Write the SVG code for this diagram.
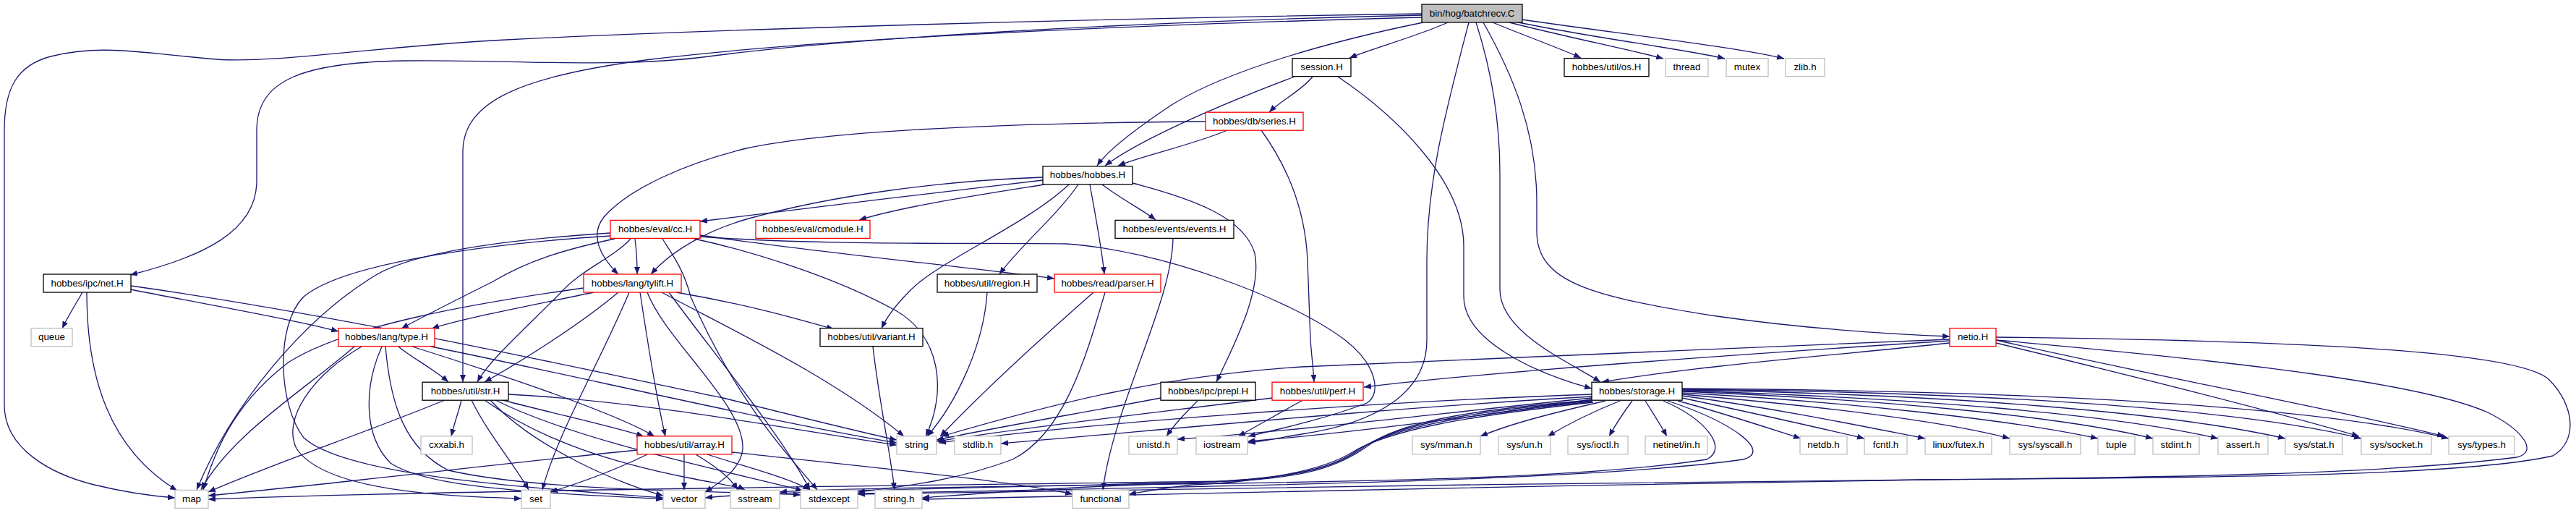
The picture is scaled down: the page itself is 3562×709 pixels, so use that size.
<svg xmlns="http://www.w3.org/2000/svg" width="3562" height="709" viewBox="0 0 3562 709">
<defs>
<marker id="a" viewBox="0 0 10 8" refX="10" refY="4" markerWidth="10" markerHeight="8" markerUnits="userSpaceOnUse" orient="auto"><path d="M0,0L10,4L0,8z" fill="#191970"/></marker>
<style>
.e path{fill:none;stroke:#191970;stroke-width:1.3;marker-end:url(#a)}
rect{fill:#fff;stroke-width:1.3}
.b rect{stroke:#000}
.r rect{stroke:#ff0000}
.g rect{stroke:#bfbfbf}
.root rect{fill:#bfbfbf;stroke:#000}
text{font-family:"Liberation Sans",Arial,Helvetica,sans-serif;font-size:13.33px;text-anchor:middle;fill:#000}
</style>
</defs>
<rect x="0" y="0" width="3562" height="709" style="fill:#fff;stroke:none"/>
<g id="edges" class="e">
<path d="M1966,19 C1500,26 1000,40 700,55 C520,64 380,88 300,82 C200,74 140,60 70,78 C25,90 6,120 6,180 L6,560 C6,620 70,655 130,670 C180,682 215,686 242,688"/>
<path d="M1966,21 C1550,30 1150,55 980,78 C850,95 700,82 560,84 C420,86 355,110 355,180 L355,250 C355,320 280,355 180,380"/>
<path d="M1966,24 C1550,35 1150,52 900,82 C720,105 640,140 640,210 L640,528"/>
<path d="M1968,31 C1850,55 1700,95 1620,145 C1560,185 1530,210 1517,229"/>
<path d="M2002,31 C1960,50 1900,66 1866,80"/>
<path d="M2064,31 C2110,50 2160,68 2186,80"/>
<path d="M2087,31 C2170,52 2250,68 2300,81"/>
<path d="M2095,30 C2200,52 2330,68 2385,81"/>
<path d="M2104,27 C2250,48 2400,65 2467,81"/>
<path d="M2041,31 C2060,90 2074,160 2074,240 L2074,400 C2074,460 2170,500 2213,528"/>
<path d="M2031,31 C2000,150 1973,250 1973,360 L1973,470 C1973,545 1900,585 1800,600 C1770,605 1745,610 1726,612"/>
<path d="M2051,31 C2090,100 2125,180 2125,280 L2125,320 C2125,390 2200,410 2374,437 C2500,455 2620,462 2696,465"/>
<path d="M1790,106 C1700,140 1580,190 1528,229"/>
<path d="M1815,106 C1800,125 1770,140 1755,155"/>
<path d="M1850,106 C1930,160 2024,250 2024,340 L2024,410 C2024,470 2120,515 2201,537"/>
<path d="M1697,180 C1650,200 1580,215 1546,229"/>
<path d="M1667,168 C1400,170 1150,180 1032,205 C950,225 870,260 835,300 C815,325 830,355 855,379"/>
<path d="M1744,180 C1780,230 1805,290 1808,360 L1812,470 C1814,495 1816,510 1817,528"/>
<path d="M1442,249 C1300,265 1100,290 968,306"/>
<path d="M1444,255 C1350,270 1250,285 1188,304"/>
<path d="M1524,255 C1550,275 1580,290 1598,304"/>
<path d="M1491,255 C1460,300 1410,340 1382,379"/>
<path d="M1507,255 C1515,300 1523,340 1527,379"/>
<path d="M1478,255 C1420,310 1300,360 1260,400 C1240,420 1225,440 1219,454"/>
<path d="M1442,245 C1300,250 1150,270 1032,303 C980,318 930,345 900,379"/>
<path d="M1566,253 C1650,275 1720,300 1735,350 C1745,400 1710,470 1682,528"/>
<path d="M844,322 C720,330 580,345 520,380 C420,440 320,560 272,677"/>
<path d="M844,326 C700,335 480,360 420,410 C380,450 385,560 420,605 C480,660 750,675 917,688"/>
<path d="M850,330 C780,345 730,360 680,390 C620,420 580,440 555,454"/>
<path d="M878,330 C880,345 881,360 881,379"/>
<path d="M872,330 C850,355 800,375 775,405 C720,460 675,500 660,528"/>
<path d="M960,330 C1030,345 1150,380 1240,430 C1300,465 1310,540 1280,603"/>
<path d="M916,330 C925,345 945,370 955,410 C1020,560 1100,640 1130,677"/>
<path d="M968,325 C1100,345 1300,365 1458,385"/>
<path d="M968,327 C1150,340 1350,335 1474,337 C1600,345 1780,410 1860,470 C1905,505 1910,545 1890,557 C1830,580 1760,595 1726,603"/>
<path d="M1622,330 C1620,420 1540,560 1525,677"/>
<path d="M114,404 C105,420 95,435 86,454"/>
<path d="M120,404 C120,520 150,620 245,678"/>
<path d="M181,400 C280,420 400,440 468,458"/>
<path d="M181,395 C500,440 850,520 1000,550 C1100,575 1180,595 1240,608"/>
<path d="M807,398 C650,420 480,450 400,500 C320,560 295,630 281,677"/>
<path d="M821,404 C720,425 640,440 597,454"/>
<path d="M855,404 C800,450 720,500 670,528"/>
<path d="M870,404 C830,500 770,600 750,677"/>
<path d="M885,404 C895,470 910,560 920,603"/>
<path d="M895,404 C920,470 1030,560 1027,620 C1025,650 990,670 975,680"/>
<path d="M915,404 C1000,450 1150,520 1250,603"/>
<path d="M925,404 C980,480 1080,600 1120,677"/>
<path d="M935,404 C1030,420 1100,440 1153,455"/>
<path d="M490,479 C420,540 320,600 278,677"/>
<path d="M500,479 C430,520 390,580 410,620 C450,680 620,686 721,689"/>
<path d="M551,479 C570,495 600,510 620,528"/>
<path d="M570,479 C700,520 850,570 905,603"/>
<path d="M596,479 C800,520 1050,580 1240,612"/>
<path d="M528,479 C505,530 500,600 540,640 C600,680 800,682 917,690"/>
<path d="M533,479 C540,560 560,620 620,650 C750,680 1000,678 1107,684"/>
<path d="M615,553 C500,600 380,640 288,680"/>
<path d="M638,553 C634,570 628,585 624,603"/>
<path d="M652,553 C675,600 710,640 731,677"/>
<path d="M695,553 C780,575 850,590 890,603"/>
<path d="M703,545 C900,555 1100,595 1240,615"/>
<path d="M670,553 C750,610 850,640 950,660 C990,668 1020,672 1030,677"/>
<path d="M685,553 C800,610 1000,650 1110,678"/>
<path d="M678,553 C740,620 860,670 917,685"/>
<path d="M881,622 C700,640 450,670 288,685"/>
<path d="M895,628 C850,650 800,668 761,680"/>
<path d="M946,628 C946,645 946,660 946,677"/>
<path d="M962,628 C990,645 1010,660 1020,677"/>
<path d="M978,628 C1030,645 1090,660 1120,677"/>
<path d="M1012,625 C1200,645 1400,665 1483,683"/>
<path d="M1207,479 C1215,550 1230,620 1237,677"/>
<path d="M1365,404 C1360,480 1320,560 1282,603"/>
<path d="M1512,404 C1460,450 1380,520 1300,603"/>
<path d="M1528,404 C1500,500 1470,600 1400,635 C1320,665 1250,672 1186,680"/>
<path d="M1605,550 C1500,570 1380,590 1295,608"/>
<path d="M1656,554 C1640,570 1625,585 1613,603"/>
<path d="M1759,550 C1600,570 1420,590 1295,610"/>
<path d="M1800,554 C1770,570 1740,588 1712,603"/>
<path d="M2696,469 C2400,480 2000,500 1800,507 C1600,520 1450,560 1302,603"/>
<path d="M2696,471 C2400,490 2050,515 1886,535"/>
<path d="M2696,474 C2550,490 2350,505 2215,528"/>
<path d="M2760,474 C2950,520 3150,570 3262,603"/>
<path d="M2760,470 C2980,520 3250,570 3380,603"/>
<path d="M2760,466 C3100,470 3480,480 3525,525 C3560,560 3565,610 3530,630 C3400,660 3000,660 2662,663 C2200,670 1600,682 1275,690"/>
<path d="M2760,470 C3100,500 3350,530 3440,570 C3490,595 3510,625 3480,632 C3300,655 3000,660 2662,663 C2200,668 1500,675 1186,683"/>
<path d="M2220,554 C2150,570 2090,585 2047,603"/>
<path d="M2240,554 C2200,570 2170,585 2140,603"/>
<path d="M2257,554 C2245,570 2235,585 2225,603"/>
<path d="M2275,554 C2285,570 2295,585 2305,603"/>
<path d="M2320,554 C2380,570 2440,590 2490,606"/>
<path d="M2326,550 C2420,570 2510,590 2578,606"/>
<path d="M2326,547 C2460,565 2580,590 2662,606"/>
<path d="M2326,545 C2500,560 2680,580 2779,606"/>
<path d="M2326,543 C2550,555 2780,580 2901,606"/>
<path d="M2326,541 C2600,552 2850,575 2977,606"/>
<path d="M2326,540 C2650,550 2920,572 3067,606"/>
<path d="M2326,539 C2700,545 3000,570 3160,606"/>
<path d="M2326,538 C2750,542 3100,565 3265,606"/>
<path d="M2326,537 C2800,540 3200,560 3386,606"/>
<path d="M2201,545 C1900,555 1500,585 1298,612"/>
<path d="M2201,548 C1900,565 1600,595 1384,613"/>
<path d="M2201,550 C2000,570 1800,595 1628,607"/>
<path d="M2201,552 C2050,575 1850,600 1725,610"/>
<path d="M2201,553 C2050,565 1950,580 1900,610 C1860,640 1820,660 1700,665 C1200,672 600,678 288,690"/>
<path d="M2201,554 C2040,568 1940,585 1890,615 C1850,645 1800,662 1650,667 C1300,675 1050,680 975,688"/>
<path d="M2300,554 C2360,580 2390,620 2360,635 C2200,660 1900,665 1700,668 C1400,672 1150,675 1078,680"/>
<path d="M2306,554 C2400,585 2450,625 2410,635 C2200,665 1700,672 1186,682"/>
<path d="M2202,555 C2030,572 1930,590 1880,620 C1840,650 1780,664 1600,669 C1450,674 1330,684 1275,688"/>
<path d="M2203,556 C2020,576 1920,595 1870,625 C1830,650 1750,665 1650,670 C1610,674 1585,679 1561,683"/>
</g>
<g id="n_batchrecv" class="root"><rect x="1966" y="6" width="139" height="25"/><text x="2035.5" y="22.5">bin/hog/batchrecv.C</text></g>
<g id="n_session" class="b"><rect x="1787" y="80.6" width="81" height="25"/><text x="1827.5" y="97">session.H</text></g>
<g id="n_os" class="b"><rect x="2163" y="80.6" width="117" height="25"/><text x="2221.5" y="97">hobbes/util/os.H</text></g>
<g id="n_thread" class="g"><rect x="2303" y="80.6" width="59" height="25"/><text x="2332.5" y="97">thread</text></g>
<g id="n_mutex" class="g"><rect x="2387" y="80.6" width="58" height="25"/><text x="2416" y="97">mutex</text></g>
<g id="n_zlib" class="g"><rect x="2469" y="80.6" width="54" height="25"/><text x="2496" y="97">zlib.h</text></g>
<g id="n_series" class="r"><rect x="1667" y="155.2" width="135" height="25"/><text x="1734.5" y="171.7">hobbes/db/series.H</text></g>
<g id="n_hobbes" class="b"><rect x="1442" y="229.8" width="124" height="25"/><text x="1504" y="246.3">hobbes/hobbes.H</text></g>
<g id="n_cc" class="r"><rect x="844" y="304.4" width="124" height="25"/><text x="906" y="320.9">hobbes/eval/cc.H</text></g>
<g id="n_cmodule" class="r"><rect x="1045" y="304.4" width="158" height="25"/><text x="1124" y="320.9">hobbes/eval/cmodule.H</text></g>
<g id="n_events" class="b"><rect x="1542" y="304.4" width="164" height="25"/><text x="1624" y="320.9">hobbes/events/events.H</text></g>
<g id="n_net" class="b"><rect x="60" y="379" width="121" height="25"/><text x="120.5" y="395.5">hobbes/ipc/net.H</text></g>
<g id="n_tylift" class="r"><rect x="807" y="379" width="135" height="25"/><text x="874.5" y="395.5">hobbes/lang/tylift.H</text></g>
<g id="n_region" class="b"><rect x="1296" y="379" width="138" height="25"/><text x="1365" y="395.5">hobbes/util/region.H</text></g>
<g id="n_parser" class="r"><rect x="1458" y="379" width="147" height="25"/><text x="1531.5" y="395.5">hobbes/read/parser.H</text></g>
<g id="n_queue" class="g"><rect x="43" y="453.6" width="57" height="25"/><text x="71.5" y="470.1">queue</text></g>
<g id="n_type" class="r"><rect x="468" y="453.6" width="133" height="25"/><text x="534.5" y="470.1">hobbes/lang/type.H</text></g>
<g id="n_variant" class="b"><rect x="1134" y="453.6" width="142" height="25"/><text x="1205" y="470.1">hobbes/util/variant.H</text></g>
<g id="n_netio" class="r"><rect x="2696" y="453.6" width="64" height="25"/><text x="2728" y="470.1">netio.H</text></g>
<g id="n_str" class="b"><rect x="584" y="528.2" width="119" height="25"/><text x="643.5" y="544.7">hobbes/util/str.H</text></g>
<g id="n_prepl" class="b"><rect x="1605" y="528.2" width="131" height="25"/><text x="1670.5" y="544.7">hobbes/ipc/prepl.H</text></g>
<g id="n_perf" class="r"><rect x="1759" y="528.2" width="126" height="25"/><text x="1822" y="544.7">hobbes/util/perf.H</text></g>
<g id="n_storage" class="b"><rect x="2201" y="528.2" width="125" height="25"/><text x="2263.5" y="544.7">hobbes/storage.H</text></g>
<g id="n_cxxabi" class="g"><rect x="582" y="602.8" width="71" height="25"/><text x="617.5" y="619.3">cxxabi.h</text></g>
<g id="n_array" class="r"><rect x="881" y="602.8" width="131" height="25"/><text x="946.5" y="619.3">hobbes/util/array.H</text></g>
<g id="n_string" class="g"><rect x="1240" y="602.8" width="55" height="25"/><text x="1267.5" y="619.3">string</text></g>
<g id="n_stdlib" class="g"><rect x="1320" y="602.8" width="64" height="25"/><text x="1352" y="619.3">stdlib.h</text></g>
<g id="n_unistd" class="g"><rect x="1561" y="602.8" width="67" height="25"/><text x="1594.5" y="619.3">unistd.h</text></g>
<g id="n_iostream" class="g"><rect x="1654" y="602.8" width="71" height="25"/><text x="1689.5" y="619.3">iostream</text></g>
<g id="n_mman" class="g"><rect x="1953" y="602.8" width="94" height="25"/><text x="2000" y="619.3">sys/mman.h</text></g>
<g id="n_un" class="g"><rect x="2072" y="602.8" width="72" height="25"/><text x="2108" y="619.3">sys/un.h</text></g>
<g id="n_ioctl" class="g"><rect x="2168" y="602.8" width="83" height="25"/><text x="2209.5" y="619.3">sys/ioctl.h</text></g>
<g id="n_in" class="g"><rect x="2275" y="602.8" width="86" height="25"/><text x="2318" y="619.3">netinet/in.h</text></g>
<g id="n_netdb" class="g"><rect x="2489" y="602.8" width="65" height="25"/><text x="2521.5" y="619.3">netdb.h</text></g>
<g id="n_fcntl" class="g"><rect x="2578" y="602.8" width="59" height="25"/><text x="2607.5" y="619.3">fcntl.h</text></g>
<g id="n_futex" class="g"><rect x="2662" y="602.8" width="92" height="25"/><text x="2708" y="619.3">linux/futex.h</text></g>
<g id="n_syscall" class="g"><rect x="2779" y="602.8" width="98" height="25"/><text x="2828" y="619.3">sys/syscall.h</text></g>
<g id="n_tuple" class="g"><rect x="2901" y="602.8" width="51" height="25"/><text x="2926.5" y="619.3">tuple</text></g>
<g id="n_stdint" class="g"><rect x="2977" y="602.8" width="64" height="25"/><text x="3009" y="619.3">stdint.h</text></g>
<g id="n_assert" class="g"><rect x="3067" y="602.8" width="69" height="25"/><text x="3101.5" y="619.3">assert.h</text></g>
<g id="n_stat" class="g"><rect x="3160" y="602.8" width="79" height="25"/><text x="3199.5" y="619.3">sys/stat.h</text></g>
<g id="n_socket" class="g"><rect x="3265" y="602.8" width="97" height="25"/><text x="3313.5" y="619.3">sys/socket.h</text></g>
<g id="n_types" class="g"><rect x="3386" y="602.8" width="91" height="25"/><text x="3431.5" y="619.3">sys/types.h</text></g>
<g id="n_map" class="g"><rect x="242" y="677.4" width="46" height="25"/><text x="265" y="693.9">map</text></g>
<g id="n_set" class="g"><rect x="721" y="677.4" width="40" height="25"/><text x="741" y="693.9">set</text></g>
<g id="n_vector" class="g"><rect x="917" y="677.4" width="58" height="25"/><text x="946" y="693.9">vector</text></g>
<g id="n_sstream" class="g"><rect x="1010" y="677.4" width="68" height="25"/><text x="1044" y="693.9">sstream</text></g>
<g id="n_stdexcept" class="g"><rect x="1107" y="677.4" width="79" height="25"/><text x="1146.5" y="693.9">stdexcept</text></g>
<g id="n_stringh" class="g"><rect x="1210" y="677.4" width="65" height="25"/><text x="1242.5" y="693.9">string.h</text></g>
<g id="n_functional" class="g"><rect x="1483" y="677.4" width="78" height="25"/><text x="1522" y="693.9">functional</text></g>
</svg>
